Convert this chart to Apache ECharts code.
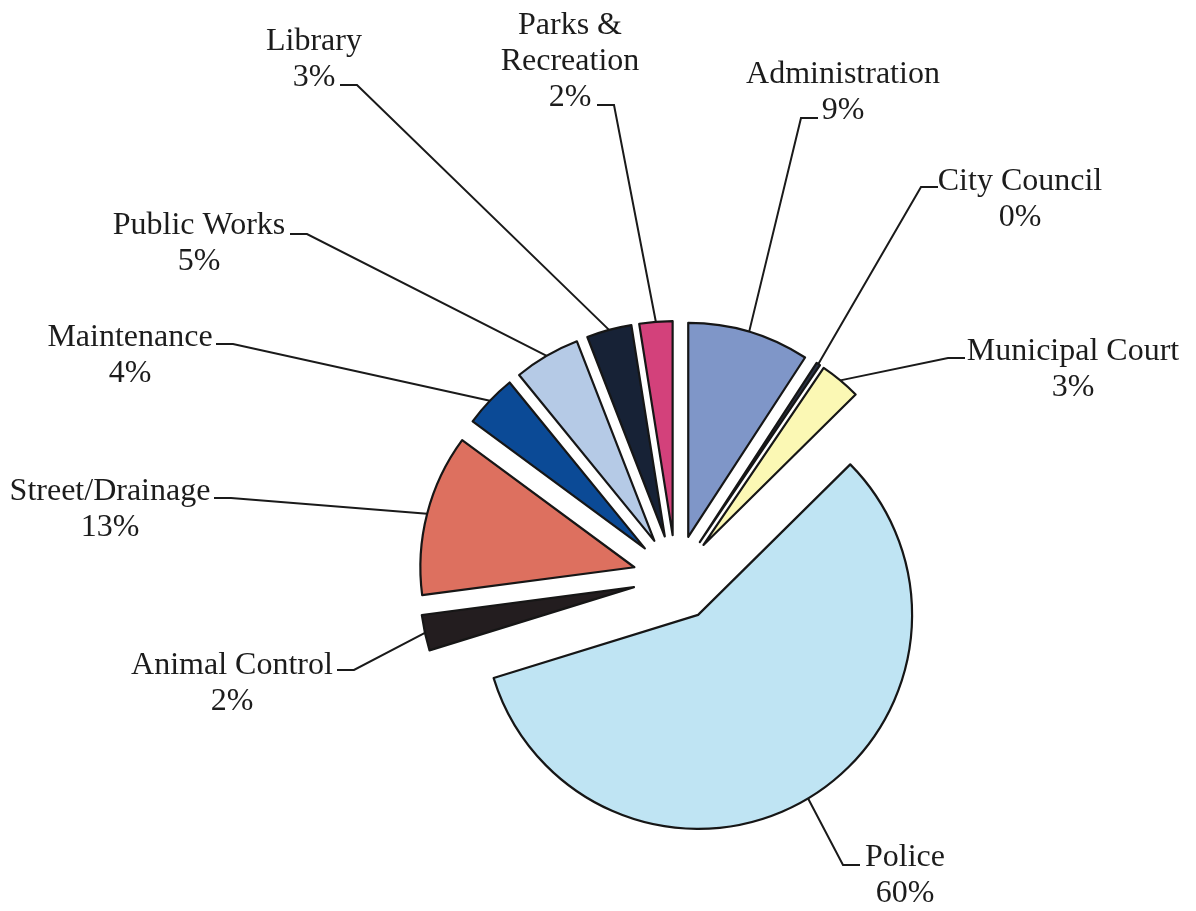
<!DOCTYPE html>
<html>
<head>
<meta charset="utf-8">
<script src="https://cdn.jsdelivr.net/npm/echarts@6/dist/echarts.min.js"></script>
<style>
html,body{margin:0;padding:0;background:#ffffff;}
#chart{width:1196px;height:911px;}
</style>
</head>
<body>
<div id="chart"></div>
<script>
// ---- data (clockwise from 12 o'clock) ----
const categories = ['Administration', 'City Council', 'Municipal Court', 'Police', 'Animal Control',
  'Street/Drainage', 'Maintenance', 'Public Works', 'Library', 'Parks &\nRecreation'];
// shares
const shares = [9.2, 0.3, 3.1, 57.7, 2.7, 12.2, 4.0, 5.0, 3.4, 2.5];
// percentages as printed on the chart
const percentLabels = ['9%', '0%', '3%', '60%', '2%', '13%', '4%', '5%', '3%', '2%'];

// ---- styles ----
const sliceColors = ['#7f96c8', '#2a3346', '#fbf8b4', '#bfe4f3', '#231d1f',
  '#dd705f', '#0b4a96', '#b5cae6', '#172236', '#d3417b'];
const pieCenter = [676, 578];
const pieRadius = 214;
const explode = 43;
const leaderHook = 17;
const labelShiftY = 3;
// label layout: [blockDx, blockDy, attachDx, attachDy, hookDir] relative to the pie centre
const labelBoxes = [
  [167, -488, 142, -460, -1],
  [344, -381, 262, -391, -1],
  [397, -211, 289, -220, -1],
  [229, 295, 184, 287, -1],
  [-444, 103, -339, 92, 1],
  [-566, -71, -462, -80, 1],
  [-546, -225, -460, -234, 1],
  [-477, -337, -386, -344, 1],
  [-362, -521, -336, -493, 1],
  [-106, -519, -79, -473, 1]
];

const chart = echarts.init(document.getElementById('chart'), null, {renderer: 'canvas'});
chart.setOption({
  animation: false,
  backgroundColor: '#ffffff',
  series: [
    {
      type: 'pie',
      center: pieCenter,
      radius: pieRadius,
      startAngle: 90,
      clockwise: true,
      selectedMode: 'multiple',
      selectedOffset: explode,
      silent: true,
      label: {show: false},
      labelLine: {show: false},
      itemStyle: {borderColor: '#161616', borderWidth: 2.2},
      select: {itemStyle: {borderColor: '#161616', borderWidth: 2.2}},
      emphasis: {disabled: true},
      data: categories.map((n, i) => ({
        name: n, value: shares[i], selected: true,
        itemStyle: {color: sliceColors[i]},
        select: {itemStyle: {color: sliceColors[i]}}
      }))
    },
    {
      type: 'pie',
      center: pieCenter,
      radius: pieRadius + explode,
      startAngle: 90,
      clockwise: true,
      silent: true,
      avoidLabelOverlap: false,
      itemStyle: {color: 'rgba(0,0,0,0)', borderWidth: 0},
      emphasis: {disabled: true},
      label: {
        show: true,
        position: 'outside',
        formatter: p => p.name + '\n' + percentLabels[p.dataIndex],
        fontFamily: '"Liberation Serif", "Times New Roman", serif',
        fontSize: 32,
        lineHeight: 36,
        color: '#1c1c1c'
      },
      labelLine: {show: true, length: 10, length2: 10, lineStyle: {color: '#1a1a1a', width: 2}},
      labelLayout: function (params) {
        const b = labelBoxes[params.dataIndex];
        const ex = pieCenter[0] + b[2];
        const ey = pieCenter[1] + b[3];
        const anchor = params.labelLinePoints && params.labelLinePoints[0];
        const pts = anchor ? [anchor, [ex + b[4] * leaderHook, ey], [ex, ey]] : undefined;
        return {
          x: pieCenter[0] + b[0],
          y: pieCenter[1] + b[1] + labelShiftY,
          align: 'center',
          verticalAlign: 'middle',
          labelLinePoints: pts
        };
      },
      data: categories.map((n, i) => ({name: n, value: shares[i]}))
    }
  ]
});
</script>
</body>
</html>
